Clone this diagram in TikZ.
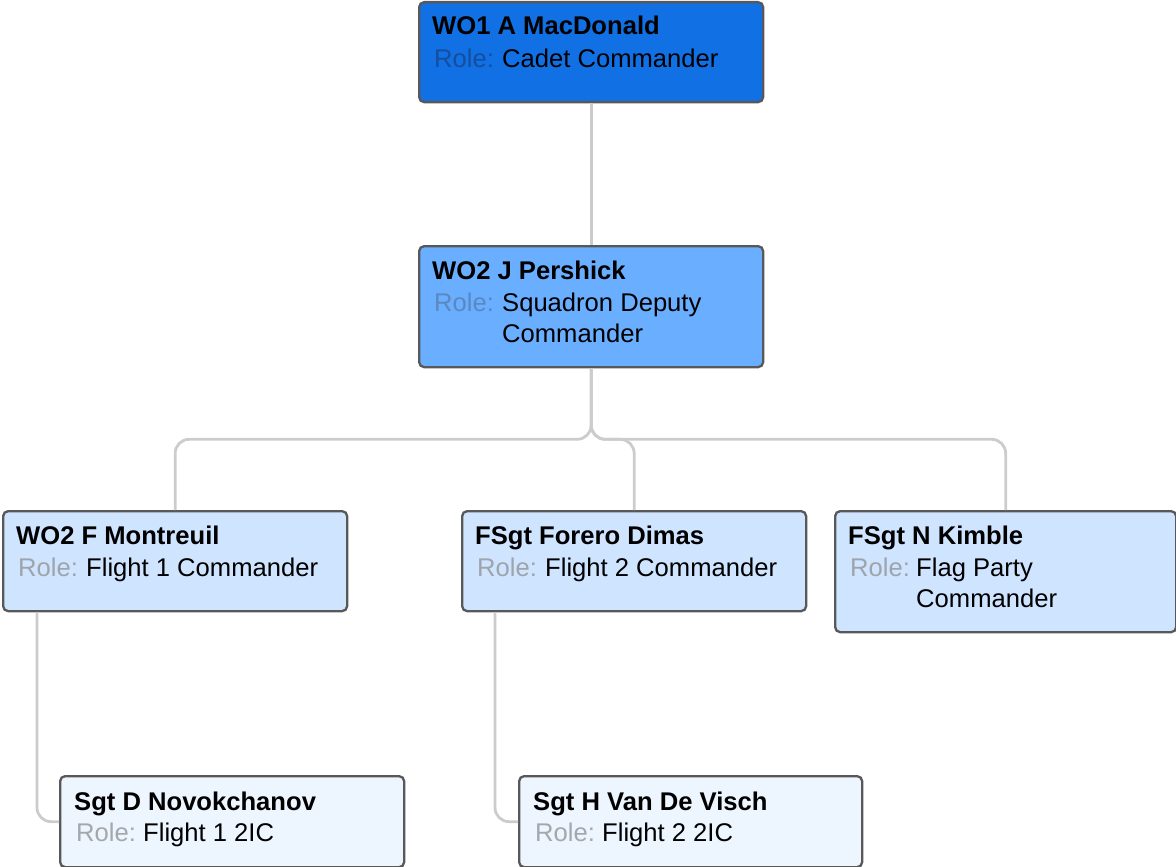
\documentclass[tikz,border=0pt]{standalone}
\usepackage{fontspec}
\setmainfont{Liberation Sans}
\usetikzlibrary{calc}
\definecolor{fillA}{HTML}{1070E4}
\definecolor{fillB}{HTML}{6AAEFF}
\definecolor{fillC}{HTML}{CFE4FF}
\definecolor{fillD}{HTML}{EDF5FF}
\definecolor{roleA}{HTML}{154E9E}
\definecolor{roleB}{HTML}{5A88BF}
\definecolor{roleC}{HTML}{9EA4AB}
\definecolor{roleD}{HTML}{A3A8AD}
\definecolor{borderc}{HTML}{585858}
\definecolor{connc}{HTML}{CCCCCC}
\tikzset{
  orgbox/.style={draw=borderc, line width=2.3pt, rounded corners=5pt, inner sep=0pt, anchor=north west},
  conn/.style={draw=connc, line width=2.8pt, rounded corners=14pt},
  nametext/.style={anchor=base west, inner sep=0pt, font=\fontsize{25.6}{31}\selectfont\bfseries},
  roletext/.style={anchor=base west, inner sep=0pt, font=\fontsize{25.6}{31}\selectfont},
}
\begin{document}
\begin{tikzpicture}[x=1pt,y=-1pt]
\useasboundingbox (0,0) rectangle (1176,867);
% boxes
\node[orgbox, fill=fillA, minimum width=344pt, minimum height=100pt] (b1) at (418,1) {};
\node[orgbox, fill=fillB, minimum width=344pt, minimum height=121pt] (b2) at (418,245) {};
\node[orgbox, fill=fillC, minimum width=344pt, minimum height=100pt] (b3) at (2,510) {};
\node[orgbox, fill=fillC, minimum width=344pt, minimum height=100pt] (b4) at (461,510) {};
\node[orgbox, fill=fillC, minimum width=341pt, minimum height=121pt] (b5) at (834,510) {};
\node[orgbox, fill=fillD, minimum width=344pt, minimum height=91pt] (b6) at (59,775) {};
\node[orgbox, fill=fillD, minimum width=343pt, minimum height=91pt] (b7) at (518,775) {};
% connectors
\draw[conn] (b1.south) -- (b2.north);
\draw[conn] (b2.south) -- ++(0,71) -| (b3.north);
\draw[conn] (b2.south) -- ++(0,71) -| (b4.north);
\draw[conn] (b2.south) -- ++(0,71) -| (b5.north);
\draw[conn] ($(b3.south west)+(35,0)$) |- (b6.west);
\draw[conn] ($(b4.south west)+(34,0)$) |- (b7.west);
% texts
\node[nametext] (t1) at ($(b1.north west)+(14,34)$) {WO1 A MacDonald};
\node[roletext, text=roleA] (r1) at ($(b1.north west)+(16,66)$) {Role:};
\node[roletext] (v1) at ($(b1.north west)+(84,66)$) {Cadet Commander};

\node[nametext] (t2) at ($(b2.north west)+(14,34)$) {WO2 J Pershick};
\node[roletext, text=roleB] (r2) at ($(b2.north west)+(16,66)$) {Role:};
\node[roletext] (v2) at ($(b2.north west)+(84,66)$) {Squadron Deputy};
\node[roletext] (v2b) at ($(b2.north west)+(84,97)$) {Commander};

\node[nametext] (t3) at ($(b3.north west)+(14,34)$) {WO2 F Montreuil};
\node[roletext, text=roleC] (r3) at ($(b3.north west)+(16,66)$) {Role:};
\node[roletext] (v3) at ($(b3.north west)+(84,66)$) {Flight 1 Commander};

\node[nametext] (t4) at ($(b4.north west)+(14,34)$) {FSgt Forero Dimas};
\node[roletext, text=roleC] (r4) at ($(b4.north west)+(16,66)$) {Role:};
\node[roletext] (v4) at ($(b4.north west)+(84,66)$) {Flight 2 Commander};

\node[nametext] (t5) at ($(b5.north west)+(14,34)$) {FSgt N Kimble};
\node[roletext, text=roleC] (r5) at ($(b5.north west)+(16,66)$) {Role:};
\node[roletext] (v5) at ($(b5.north west)+(82,66)$) {Flag Party};
\node[roletext] (v5b) at ($(b5.north west)+(82,97)$) {Commander};

\node[nametext] (t6) at ($(b6.north west)+(15,35)$) {Sgt D Novokchanov};
\node[roletext, text=roleD] (r6) at ($(b6.north west)+(17,66)$) {Role:};
\node[roletext] (v6) at ($(b6.north west)+(84,66)$) {Flight 1 2IC};

\node[nametext] (t7) at ($(b7.north west)+(15,35)$) {Sgt H Van De Visch};
\node[roletext, text=roleD] (r7) at ($(b7.north west)+(17,66)$) {Role:};
\node[roletext] (v7) at ($(b7.north west)+(84,66)$) {Flight 2 2IC};
\end{tikzpicture}
\end{document}
